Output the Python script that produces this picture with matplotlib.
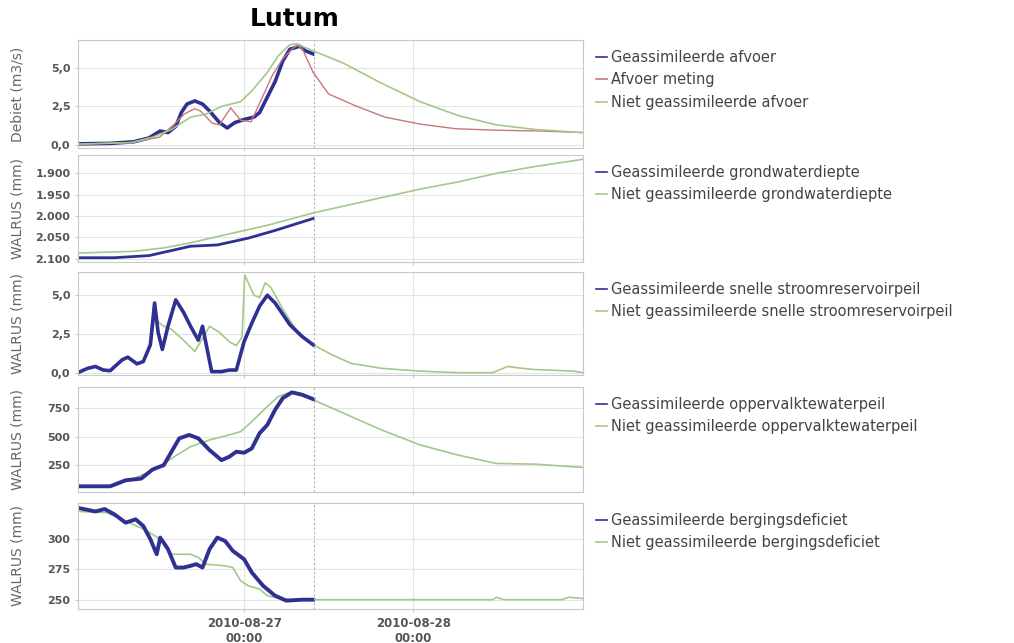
import numpy as np
import pandas as pd
import matplotlib
matplotlib.use('Agg')
import matplotlib.pyplot as plt
import matplotlib.dates as mdates

''' DATA (uren vanaf 2010-08-26 00:00) '''
# Debiet (m3/s)
afv_ass_t = [0.4, 5.0, 8.3, 10.5, 12.1, 13.2, 14.3, 15.1, 15.9, 17.0, 18.1, 19.1, 20.5, 21.6,
             22.7, 24.0, 25.4, 26.2, 27.3, 28.4, 29.5, 30.5, 31.9, 32.7, 33.8]
afv_ass_v = [0.07, 0.1, 0.2, 0.45, 0.9, 0.8, 1.2, 2.1, 2.65, 2.85, 2.65, 2.2, 1.45, 1.1,
             1.45, 1.65, 1.8, 2.1, 3.1, 4.1, 5.45, 6.2, 6.4, 6.1, 5.9]
afv_met_t = [0.4, 8.0, 12.0, 14.0, 15.5, 17.0, 17.8, 19.5, 20.5, 22.1, 23.5, 25.0, 26.5, 28.0,
             29.5, 31.0, 31.6, 32.3, 33.8, 36.0, 40.0, 44.0, 49.0, 54.0, 60.0, 66.0, 72.1]
afv_met_v = [0.05, 0.15, 0.5, 1.3, 2.0, 2.35, 2.2, 1.4, 1.3, 2.4, 1.6, 1.5, 3.0, 4.5,
             5.6, 6.3, 6.45, 6.2, 4.7, 3.3, 2.5, 1.8, 1.35, 1.05, 0.95, 0.9, 0.8]
afv_niet_t = [0.4, 8.0, 11.0, 13.7, 16.4, 18.6, 20.8, 23.5, 25.1, 27.3, 28.9, 30.5, 31.6, 32.2,
              33.8, 38.1, 43.5, 49.0, 54.4, 59.8, 65.3, 72.1]
afv_niet_v = [0.05, 0.15, 0.5, 1.0, 1.8, 2.0, 2.5, 2.8, 3.5, 4.7, 5.8, 6.5, 6.55, 6.4,
              6.1, 5.3, 4.0, 2.8, 1.9, 1.3, 1.0, 0.8]

# Grondwaterdiepte (mm)
gw_ass_t = [0.4, 5.6, 10.5, 13.2, 16.4, 20.2, 24.6, 28.4, 33.8]
gw_ass_v = [2098, 2098, 2093, 2083, 2071, 2068, 2052, 2034, 2006]
gw_niet_t = [0.4, 8.3, 12.6, 16.4, 21.9, 27.3, 33.8, 38.1, 43.5, 49.0, 54.4, 59.8, 65.3, 72.1]
gw_niet_v = [2087, 2083, 2075, 2063, 2042, 2022, 1993, 1977, 1957, 1937, 1920, 1900, 1884, 1867]

# Snelle stroomreservoirpeil (mm)
sr_ass_t = [0.4, 1.8, 2.9, 4.0, 5.0, 6.7, 7.5, 8.8, 9.7, 10.7, 11.3, 11.8, 12.4, 13.2, 14.3,
            15.4, 16.4, 17.5, 18.1, 19.4, 20.8, 21.9, 22.9, 24.0, 25.1, 26.2, 27.3, 28.4,
            30.5, 32.2, 33.8]
sr_ass_v = [0.0, 0.28, 0.4, 0.17, 0.13, 0.83, 1.0, 0.57, 0.72, 1.8, 4.5, 2.6, 1.5, 3.0, 4.7,
            3.9, 3.0, 2.1, 3.0, 0.07, 0.07, 0.17, 0.17, 2.0, 3.2, 4.3, 5.0, 4.5,
            3.1, 2.35, 1.8]
sr_niet_t = [0.4, 1.8, 2.9, 4.0, 5.0, 6.7, 7.5, 8.8, 9.7, 10.7, 11.3, 12.0, 12.6, 13.7, 15.4,
             17.0, 18.1, 19.1, 20.5, 21.9, 22.9, 23.7, 24.1, 25.4, 26.2, 27.0, 27.8, 29.5,
             31.6, 33.8, 36.5, 39.2, 43.5, 49.0, 54.4, 59.3, 61.4, 63.1, 65.3, 70.7, 72.1]
sr_niet_v = [0.0, 0.28, 0.4, 0.17, 0.13, 0.83, 1.0, 0.57, 0.72, 1.8, 3.5, 3.2, 3.0, 2.8, 2.1,
             1.37, 2.2, 3.0, 2.6, 2.0, 1.75, 2.3, 6.3, 5.0, 4.85, 5.8, 5.5, 4.1,
             2.6, 1.8, 1.15, 0.6, 0.28, 0.1, 0.0, 0.0, 0.4, 0.3, 0.2, 0.1, 0.0]

# Oppervlaktewaterpeil (mm)
ow_ass_t = [0.4, 5.0, 7.2, 9.4, 11.0, 12.6, 13.7, 14.8, 16.2, 17.5, 19.1, 20.8, 21.9, 22.9,
            24.0, 25.1, 26.2, 27.3, 28.4, 29.5, 30.8, 32.2, 33.8]
ow_ass_v = [65, 65, 118, 132, 212, 250, 368, 485, 515, 485, 382, 294, 324, 368,
            359, 397, 530, 603, 735, 838, 888, 868, 829]
ow_niet_t = [0.4, 5.6, 11.0, 13.7, 16.4, 19.1, 21.9, 23.5, 25.1, 27.3, 28.9, 30.5, 32.7, 38.1,
             43.5, 49.0, 54.4, 59.8, 65.3, 72.1]
ow_niet_v = [65, 70, 200, 309, 412, 471, 515, 544, 632, 765, 853, 888, 853, 706,
             559, 427, 338, 265, 259, 230]

# Bergingsdeficiet (mm)
bd_ass_t = [0.4, 2.9, 4.2, 5.6, 7.2, 8.6, 9.7, 10.7, 11.6, 12.1, 13.2, 14.3, 15.4, 16.4, 17.2,
            18.1, 19.1, 20.2, 21.3, 22.4, 24.0, 25.1, 26.7, 28.4, 30.0, 32.2, 33.8]
bd_ass_v = [326, 323, 325, 320.6, 313.7, 316.5, 311, 300, 287.6, 301.4, 291.8, 276.6, 276.6, 278, 279.4,
            276.6, 291.8, 301.4, 298.6, 290.4, 283.5, 272.5, 261.5, 253.3, 249.2, 250, 250]
bd_niet_t = [0.4, 4.5, 7.2, 9.9, 12.1, 13.7, 16.4, 17.5, 18.6, 21.3, 22.4, 23.5, 24.6, 26.2,
             27.3, 29.5, 32.7, 43.5, 59.3, 59.8, 60.9, 69.0, 70.1, 72.1]
bd_niet_v = [323, 322, 315, 308, 300, 287.6, 287.6, 285, 279.4, 278, 276.6, 265.7, 261.5, 258.8,
             253.3, 250.5, 250, 250, 250, 252, 250, 250, 252, 251]

''' STIJL '''
c_ass = '#2e3192'
c_met = '#c87878'
c_niet = '#a3c88a'
base = pd.Timestamp('2010-08-26 00:00')

def tt(h):
    return base + pd.to_timedelta(np.array(h), unit='h')

panels = [
    # (top px, bottom px, ylabel, ylim, yticks, yticklabels, series)
    (40, 148, 'Debiet (m3/s)', (-0.2, 6.8), [0, 2.5, 5], ['0,0', '2,5', '5,0'],
     [(afv_ass_t, afv_ass_v, c_ass, 2.6, 'Geassimileerde afvoer'),
      (afv_met_t, afv_met_v, c_met, 1.0, 'Afvoer meting'),
      (afv_niet_t, afv_niet_v, c_niet, 1.2, 'Niet geassimileerde afvoer')]),
    (155, 262, 'WALRUS (mm)', (2108, 1857), [1900, 1950, 2000, 2050, 2100],
     ['1.900', '1.950', '2.000', '2.050', '2.100'],
     [(gw_niet_t, gw_niet_v, c_niet, 1.2, None),
      (gw_ass_t, gw_ass_v, c_ass, 2.0, 'Geassimileerde grondwaterdiepte'),
      (gw_niet_t, gw_niet_v, c_niet, 0, 'Niet geassimileerde grondwaterdiepte')]),
    (272, 375, 'WALRUS (mm)', (-0.15, 6.5), [0, 2.5, 5], ['0,0', '2,5', '5,0'],
     [(sr_niet_t, sr_niet_v, c_niet, 1.2, None),
      (sr_ass_t, sr_ass_v, c_ass, 2.6, 'Geassimileerde snelle stroomreservoirpeil'),
      (sr_niet_t, sr_niet_v, c_niet, 0, 'Niet geassimileerde snelle stroomreservoirpeil')]),
    (387, 492, 'WALRUS (mm)', (15, 935), [250, 500, 750], ['250', '500', '750'],
     [(ow_niet_t, ow_niet_v, c_niet, 1.2, None),
      (ow_ass_t, ow_ass_v, c_ass, 2.8, 'Geassimileerde oppervalktewaterpeil'),
      (ow_niet_t, ow_niet_v, c_niet, 0, 'Niet geassimileerde oppervalktewaterpeil')]),
    (503, 609, 'WALRUS (mm)', (242.3, 330), [250, 275, 300], ['250', '275', '300'],
     [(bd_niet_t, bd_niet_v, c_niet, 1.2, None),
      (bd_ass_t, bd_ass_v, c_ass, 2.8, 'Geassimileerde bergingsdeficiet'),
      (bd_niet_t, bd_niet_v, c_niet, 0, 'Niet geassimileerde bergingsdeficiet')]),
]

W, H = 1014, 643
fig = plt.figure(figsize=(W / 100, H / 100), dpi=100)
fig.text(295 / W, 1 - 19 / H, 'Lutum', ha='center', va='center', fontsize=18, fontweight='bold')

x0, x1 = 78, 583
for i, (top, bot, ylab, ylim, yt, ytl, series) in enumerate(panels):
    ax = fig.add_axes([x0 / W, 1 - bot / H, (x1 - x0) / W, (bot - top) / H])
    handles, labels = [], []
    for t, v, c, lw, lab in series:
        if lw > 0:
            ax.plot(tt(t), v, color=c, lw=lw, solid_joinstyle='round')
        if lab is not None:
            h, = ax.plot([], [], color=c, lw=1.2)
            handles.append(h)
            labels.append(lab)
    ax.axvline(tt([33.9])[0], color='#b0b0c0', lw=0.8, ls=(0, (2, 2)))
    ax.set_xlim(tt([0.43])[0], tt([72.1])[0])
    ax.set_ylim(*ylim)
    ax.set_yticks(yt)
    ax.set_yticklabels(ytl)
    ax.set_xticks(tt([24, 48]))
    ax.xaxis.set_major_formatter(mdates.DateFormatter('%Y-%m-%d\n%H:%M'))
    ax.grid(True, color='#e4e4e4', lw=0.8)
    for s in ax.spines.values():
        s.set_color('#c8c8c8')
    ax.tick_params(colors='#c8c8c8', labelcolor='#555555', labelsize=8, length=2)
    ax.tick_params(axis='x', labelsize=8.5)
    for lbl in ax.get_yticklabels() + ax.get_xticklabels():
        lbl.set_fontweight('bold')
    ax.set_ylabel(ylab, color='#666666', fontsize=10)
    ax.yaxis.set_label_coords(-0.105, 0.5)
    if i < len(panels) - 1:
        ax.tick_params(axis='x', labelbottom=False)
    ax.legend(handles, labels, loc='upper left', bbox_to_anchor=(1.015, 0.96),
              frameon=False, handlelength=0.7, handletextpad=0.3, labelspacing=0.5,
              fontsize=10.5, borderaxespad=0, labelcolor='#444444')

fig.savefig('out.png', dpi=100)
